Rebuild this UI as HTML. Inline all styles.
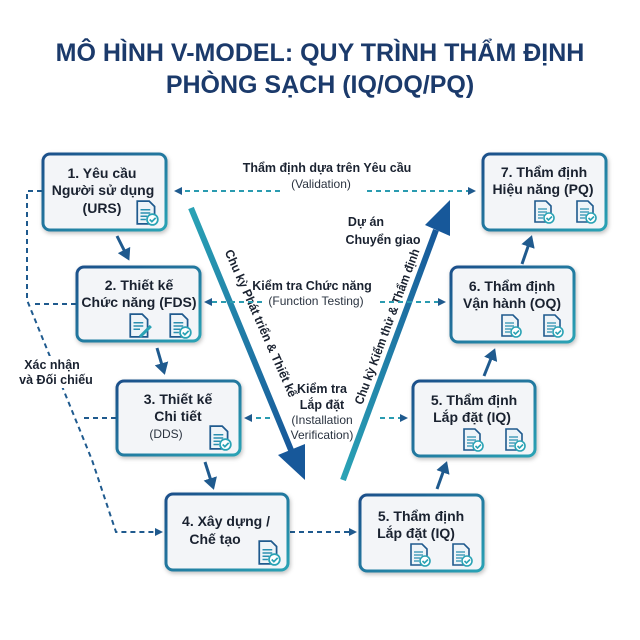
<!DOCTYPE html>
<html><head><meta charset="utf-8"><style>
html,body{margin:0;padding:0;background:#fff;width:640px;height:640px;overflow:hidden}
svg{display:block;font-family:"Liberation Sans",sans-serif}
.t{font-weight:bold;fill:#1a2230;font-size:14px;text-anchor:middle}
.s{fill:#2a3340;font-size:12px;text-anchor:middle}
.l{font-weight:bold;fill:#1a2230;font-size:12.5px;text-anchor:middle}
.d{stroke:#1f5a8e;stroke-width:2;stroke-dasharray:5,4;fill:none}
.dt{stroke:#2a9bb0;stroke-width:2;stroke-dasharray:5,4;fill:none}
</style></head><body>
<svg width="640" height="640" viewBox="0 0 640 640">
<defs>
<linearGradient id="bg" x1="0" y1="0" x2="1" y2="1"><stop offset="0" stop-color="#1b4f8a"/><stop offset="1" stop-color="#2aa3b5"/></linearGradient>
<linearGradient id="ad" x1="0" y1="0" x2="1" y2="1"><stop offset="0" stop-color="#2aa3b5"/><stop offset="1" stop-color="#17589a"/></linearGradient>
<linearGradient id="au" x1="0" y1="1" x2="1" y2="0"><stop offset="0" stop-color="#2aa3b5"/><stop offset="1" stop-color="#17589a"/></linearGradient>
<filter id="sh" x="-10%" y="-10%" width="130%" height="130%"><feDropShadow dx="1" dy="2" stdDeviation="2" flood-opacity="0.25"/></filter>
<marker id="m" markerWidth="8" markerHeight="8" refX="6" refY="4" orient="auto" markerUnits="userSpaceOnUse"><path d="M0,0 L8,4 L0,8z" fill="#1f5a8e"/></marker>
<marker id="ms" markerWidth="14" markerHeight="14" refX="9" refY="7" orient="auto" markerUnits="userSpaceOnUse"><path d="M0,0 L12,7 L0,14z" fill="#1f5a8e"/></marker>
<symbol id="doc" viewBox="0 0 22 24"><path d="M2,1 H13 L18,6 V22 H2z" fill="#eef4f8" stroke="#1f5a8e" stroke-width="1.6"/><path d="M5,9h9M5,12h9M5,15h6M5,18h5" stroke="#2a8fb0" stroke-width="1.3"/><circle cx="16" cy="18" r="5" fill="#fff" stroke="#2aa3b5" stroke-width="1.6"/><path d="M13.5,18 l2,2 l3.5,-3.5" stroke="#2aa3b5" stroke-width="1.6" fill="none"/></symbol>
<symbol id="pen" viewBox="0 0 22 24"><path d="M2,1 H13 L18,6 V22 H2z" fill="#eef4f8" stroke="#1f5a8e" stroke-width="1.6"/><path d="M5,9h9M5,12h9M5,15h6" stroke="#2a8fb0" stroke-width="1.3"/><path d="M10,21 l10,-10 l2,2 l-10,10z" fill="#2aa3b5"/></symbol>
</defs>
<text x="320" y="61" text-anchor="middle" font-size="25" font-weight="bold" fill="#1b3a6b">MÔ HÌNH V-MODEL: QUY TRÌNH THẨM ĐỊNH</text>
<text x="320" y="93" text-anchor="middle" font-size="25" font-weight="bold" fill="#1b3a6b">PHÒNG SẠCH (IQ/OQ/PQ)</text>

<!-- big arrows -->
<path d="M191,208 L291,450" stroke="url(#ad)" stroke-width="6" fill="none"/>
<path d="M278,455 L305,480 L305,444z" fill="#17589a"/>
<path d="M343,480 L436,230" stroke="url(#au)" stroke-width="6" fill="none"/>
<path d="M425,225 L450,200 L450,236z" fill="#17589a"/>
<text class="l" transform="translate(257,325) rotate(66)" textLength="160" lengthAdjust="spacingAndGlyphs">Chu kỳ Phát triển &amp; Thiết kế</text>
<text class="l" transform="translate(391,328) rotate(-69.6)" textLength="165" lengthAdjust="spacingAndGlyphs">Chu kỳ Kiểm thử &amp; Thẩm định</text>

<!-- dashed connectors -->
<path class="dt" d="M280,191 H176" marker-end="url(#m)"/>
<path class="dt" d="M367,191 H474" marker-end="url(#m)"/>
<path class="dt" d="M262,302 H206" marker-end="url(#m)"/>
<path class="dt" d="M380,302 H444" marker-end="url(#m)"/>
<path class="dt" d="M270,418 H246" marker-end="url(#m)"/>
<path class="dt" d="M380,418 H406" marker-end="url(#m)"/>
<path class="d" d="M290,532 H355" marker-end="url(#m)"/>
<path class="d" d="M42,191 H27 V300 L92,460 L116,532 H161" marker-end="url(#m)"/>
<path class="d" d="M76,304 H33"/>
<path class="d" d="M116,418 H80"/>

<rect x="20" y="356" width="76" height="32" fill="#fff"/>
<text class="l" x="52" y="369">Xác nhận</text>
<text class="l" x="56" y="384">và Đối chiếu</text>

<text class="l" x="327" y="172">Thẩm định dựa trên Yêu cầu</text>
<text class="s" x="321" y="188">(Validation)</text>
<text class="l" x="312" y="290">Kiểm tra Chức năng</text>
<text class="s" x="316" y="305">(Function Testing)</text>
<text class="l" x="322" y="393">Kiểm tra</text>
<text class="l" x="322" y="409">Lắp đặt</text>
<text class="s" x="322" y="424">(Installation</text>
<text class="s" x="322" y="439">Verification)</text>
<text class="l" x="366" y="226">Dự án</text>
<text class="l" x="383" y="244">Chuyển giao</text>

<!-- small solid arrows -->
<path d="M117,236 L128,258" stroke="#1f5a8e" stroke-width="3" marker-end="url(#ms)"/>
<path d="M157,348 L164,372" stroke="#1f5a8e" stroke-width="3" marker-end="url(#ms)"/>
<path d="M205,462 L213,487" stroke="#1f5a8e" stroke-width="3" marker-end="url(#ms)"/>
<path d="M437,489 L446,464" stroke="#1f5a8e" stroke-width="3" marker-end="url(#ms)"/>
<path d="M484,376 L494,351" stroke="#1f5a8e" stroke-width="3" marker-end="url(#ms)"/>
<path d="M522,264 L531,238" stroke="#1f5a8e" stroke-width="3" marker-end="url(#ms)"/>

<!-- boxes -->
<g filter="url(#sh)" fill="#f3f5f8" stroke="url(#bg)" stroke-width="3">
<rect x="43" y="154" width="123" height="76" rx="7"/>
<rect x="77" y="267" width="123" height="74" rx="7"/>
<rect x="117" y="381" width="123" height="74" rx="7"/>
<rect x="166" y="494" width="122" height="76" rx="7"/>
<rect x="360" y="495" width="123" height="76" rx="7"/>
<rect x="413" y="381" width="122" height="75" rx="7"/>
<rect x="451" y="267" width="123" height="75" rx="7"/>
<rect x="483" y="154" width="123" height="76" rx="7"/>
</g>
<text class="t" x="102" y="178">1. Yêu cầu</text>
<text class="t" x="103" y="195">Người sử dụng</text>
<text class="t" x="102" y="213">(URS)</text>
<use href="#doc" x="135" y="200" width="24" height="26"/>
<text class="t" x="139" y="290">2. Thiết kế</text>
<text class="t" x="139" y="307">Chức năng (FDS)</text>
<use href="#pen" x="128" y="313" width="24" height="26"/>
<use href="#doc" x="168" y="313" width="24" height="26"/>
<text class="t" x="178" y="404">3. Thiết kế</text>
<text class="t" x="178" y="421">Chi tiết</text>
<text class="s" x="166" y="438">(DDS)</text>
<use href="#doc" x="208" y="425" width="24" height="26"/>
<text class="t" x="226" y="526">4. Xây dựng /</text>
<text class="t" x="215" y="544">Chế tạo</text>
<use href="#doc" x="257" y="540" width="24" height="26"/>
<text class="t" x="421" y="521">5. Thẩm định</text>
<text class="t" x="416" y="538">Lắp đặt (IQ)</text>
<use href="#doc" x="409" y="543" width="22" height="24"/>
<use href="#doc" x="451" y="543" width="22" height="24"/>
<text class="t" x="474" y="405">5. Thẩm định</text>
<text class="t" x="472" y="422">Lắp đặt (IQ)</text>
<use href="#doc" x="462" y="428" width="22" height="24"/>
<use href="#doc" x="504" y="428" width="22" height="24"/>
<text class="t" x="512" y="291">6. Thẩm định</text>
<text class="t" x="512" y="308">Vận hành (OQ)</text>
<use href="#doc" x="500" y="314" width="22" height="24"/>
<use href="#doc" x="542" y="314" width="22" height="24"/>
<text class="t" x="544" y="177">7. Thẩm định</text>
<text class="t" x="543" y="194">Hiệu năng (PQ)</text>
<use href="#doc" x="533" y="200" width="22" height="24"/>
<use href="#doc" x="575" y="200" width="22" height="24"/>
</svg>
</body></html>
